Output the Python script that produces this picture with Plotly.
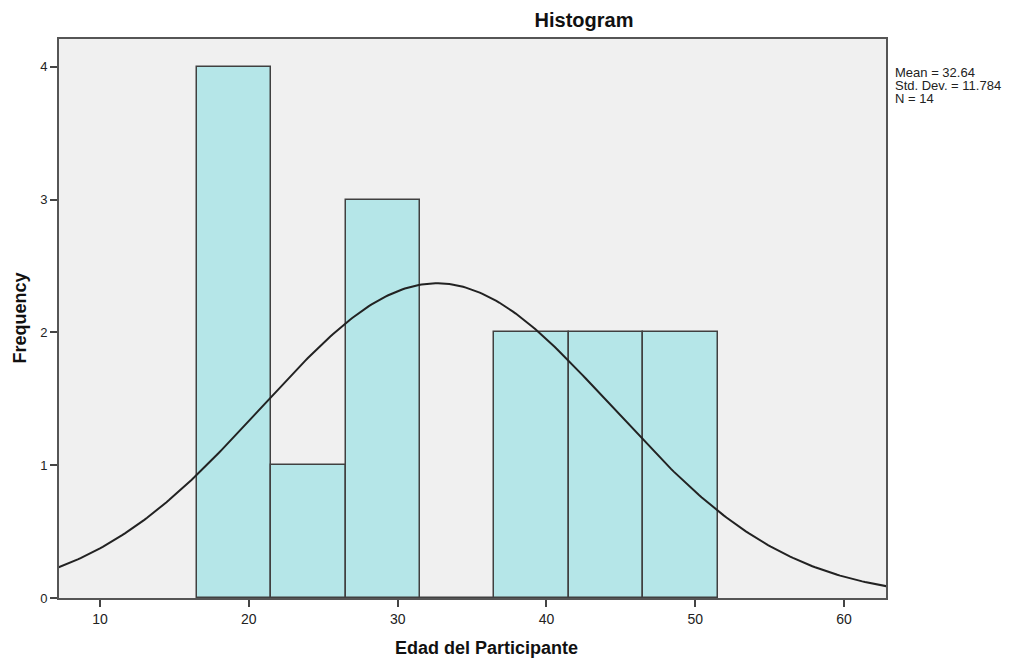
import numpy as np
import plotly.graph_objects as go

bin_centers = [19, 24, 29, 34, 39, 44, 49]
counts = [4, 1, 3, 0, 2, 2, 2]
bin_width = 5
mean = 32.64
std_dev = 11.784
n = 14
x_ticks = [10, 20, 30, 40, 50, 60]
y_ticks = [0, 1, 2, 3, 4]
stat_lines = [f"Mean = {mean}", f"Std. Dev. = {std_dev}", f"N = {n}"]

# fitted normal curve from the reported statistics
xs = np.linspace(7.2, 62.9, 300)
ys = n * bin_width / (std_dev * np.sqrt(2 * np.pi)) * np.exp(-0.5 * ((xs - mean) / std_dev) ** 2)

W, H = 1012, 651
L, T, R, B = 51, 31, 134, 61
PH = H - T - B
PW = W - L - R

fig = go.Figure()
fig.add_trace(go.Bar(x=bin_centers, y=counts, width=[bin_width] * len(counts),
                     marker=dict(color="#b5e6e8", line=dict(color="#404040", width=1.5)),
                     hoverinfo="x+y"))
fig.add_trace(go.Scatter(x=xs, y=ys, mode="lines", line=dict(color="#222222", width=2),
                         hoverinfo="skip"))

ann = []
for i, s in enumerate(stat_lines):
    ann.append(dict(text=s, xref="paper", yref="paper", x=(885 - L) / PW,
                    y=1 - (33 + 13 * i) / PH, xanchor="left", yanchor="middle",
                    showarrow=False, align="left", font=dict(size=13, color="#222222")))
ann.append(dict(text="<b>Edad del Participante</b>", xref="paper", yref="paper",
                x=(478 - L) / PW, y=-50 / PH, xanchor="center", yanchor="middle",
                showarrow=False, font=dict(size=18, color="#111111")))
ann.append(dict(text="<b>Frequency</b>", xref="paper", yref="paper", x=(11 - L) / PW,
                y=0.5, xanchor="center", yanchor="middle", textangle=-90, showarrow=False,
                font=dict(size=18, color="#111111")))

fig.update_layout(
    width=W, height=H,
    margin=dict(l=L, r=R, t=T, b=B, autoexpand=False),
    paper_bgcolor="white", plot_bgcolor="#f0f0f0",
    showlegend=False, bargap=0,
    font=dict(family="Liberation Sans, Arial, sans-serif", color="#222222", size=12),
    title=dict(text="<b>Histogram</b>", x=576 / W, xanchor="center", y=1 - 12 / H,
               yanchor="middle", font=dict(size=20, color="#111111")),
    xaxis=dict(range=[7.24, 62.82], tickvals=x_ticks, ticks="outside", ticklen=7,
               tickwidth=2, tickcolor="#444444", showgrid=False, zeroline=False,
               showline=True, linecolor="#555555", linewidth=2, mirror=True, automargin=False,
               tickfont=dict(size=14)),
    yaxis=dict(range=[0, 4.21], tickvals=y_ticks, ticks="outside", ticklen=7,
               tickwidth=2, tickcolor="#444444", showgrid=False, zeroline=False,
               showline=True, linecolor="#555555", linewidth=2, mirror=True, automargin=False,
               tickfont=dict(size=13)),
    annotations=ann,
)

fig.write_html("out.html")
